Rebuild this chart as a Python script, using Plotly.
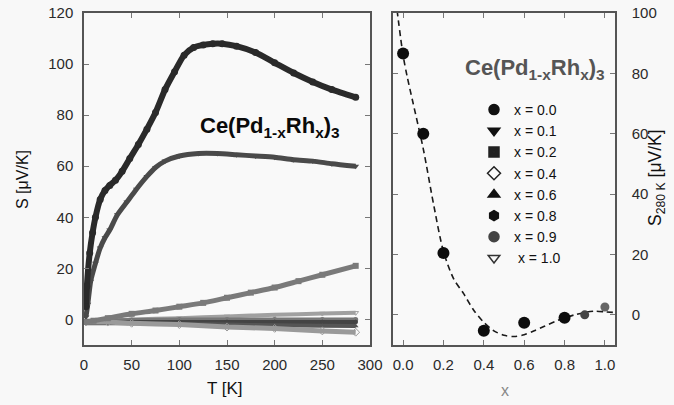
import plotly.graph_objects as go

# ---------------- data ----------------
T_00 = [2, 3, 6, 9, 12, 17, 22, 27, 33, 40, 48, 57, 66, 75, 85, 95, 105, 115, 125, 135, 145, 160, 180, 200, 220, 240, 260, 285]
S_00 = [5, 13, 26, 34, 40, 47, 50.5, 52.5, 54.5, 58, 63, 68.5, 74.5, 81, 90, 97, 103.5, 106.5, 107.5, 108, 108, 107, 104.5, 100.5, 96.5, 93, 90, 87]

T_01 = [2, 4, 7, 12, 17, 22, 27, 35, 45, 55, 66, 75, 85, 100, 120, 140, 160, 180, 200, 220, 240, 260, 285]
S_01 = [1, 6, 15, 22, 28, 32, 35, 41, 46, 51, 56, 59.5, 62, 64, 65, 65, 64.5, 64, 63.5, 62.5, 62, 61, 60]

T_02 = [2, 10, 25, 50, 75, 100, 125, 150, 175, 200, 225, 250, 285]
S_02 = [-1, -0.5, 0.5, 2.2, 3.5, 5, 6.5, 8.5, 10.5, 12.5, 15, 17.5, 21]

T_low = [2, 25, 50, 100, 150, 200, 250, 285]
S_04 = [-1, -1, -1.5, -2, -3, -3.5, -4.5, -5]
S_06 = [-1.5, -1.5, -1.5, -1.8, -2, -2.3, -2.5, -2.6]
S_08 = [-1, -1.2, -1, -1, -1, -1, -1, -1]
S_09 = [-0.5, -0.5, -0.2, 0, 0, 0, 0, 0]
S_10 = [-1, -0.5, 0, 0.5, 1.2, 1.8, 2.3, 2.6]

x_conc = [0.0, 0.1, 0.2, 0.4, 0.6, 0.8, 0.9, 1.0]
S_280 = [86.6, 60, 20.5, -5.3, -2.6, -1, 0, 2.6]

x_fit = [-0.03, 0.0, 0.02, 0.05, 0.1, 0.15, 0.2, 0.25, 0.3, 0.35, 0.4, 0.45, 0.5, 0.55, 0.6, 0.65, 0.7, 0.75, 0.8, 0.85, 0.9, 0.95, 1.0, 1.04]
S_fit = [101, 86, 79, 70, 55, 37, 21, 12, 7, 1.5, -2.5, -5.3, -6.8, -7.2, -6.6, -5.3, -3.8, -2.3, -1, 0, 0.8, 1.2, 1.0, 0.8]

legend_labels = ["x = 0.0", "x = 0.1", "x = 0.2", "x = 0.4", "x = 0.6", "x = 0.8", "x = 0.9", " x = 1.0"]

# ---------------- styles ----------------
FONT = "Liberation Sans, Arial, sans-serif"
series = [
    (T_00, S_00, "circle", "#2a2a2a", 6),
    (T_01, S_01, "triangle-down", "#4a4a4a", 5),
    (T_02, S_02, "square", "#7a7a7a", 5),
    (T_low, S_04, "diamond-open", "#9a9a9a", 5),
    (T_low, S_06, "triangle-up", "#555555", 4),
    (T_low, S_08, "hexagon", "#444444", 4),
    (T_low, S_09, "circle-x", "#777777", 4),
    (T_low, S_10, "triangle-down-open", "#a0a0a0", 4),
]
legend_symbols = ["circle", "triangle-down", "square-dot", "diamond-open",
                  "triangle-up", "hexagon", "circle-x", "triangle-down-open"]
legend_colors = ["#111111", "#111111", "#222222", "#222222", "#111111", "#111111", "#444444", "#333333"]

fig = go.Figure()

for (tx, sy, sym, col, w) in reversed(series):
    fig.add_trace(go.Scatter(
        x=tx, y=sy, mode="lines+markers", xaxis="x", yaxis="y",
        line=dict(color=col, width=w, shape="spline", smoothing=0.6),
        marker=dict(symbol=sym, size=w + 1, color=col),
        showlegend=False, hoverinfo="skip"))

for lab, sym, col in zip(legend_labels, legend_symbols, legend_colors):
    fig.add_trace(go.Scatter(
        x=[None], y=[None], mode="markers", xaxis="x2", yaxis="y2",
        marker=dict(symbol=sym, size=10, color=col, opacity=1, line=dict(color=col, width=1.5)),
        name=lab, showlegend=True))

fig.add_trace(go.Scatter(
    x=x_fit, y=S_fit, mode="lines", xaxis="x2", yaxis="y2",
    line=dict(color="#1a1a1a", width=1.6, dash="6px,4px", shape="spline", smoothing=0.8),
    showlegend=False, hoverinfo="skip"))
fig.add_trace(go.Scatter(
    x=x_conc, y=S_280, mode="markers", xaxis="x2", yaxis="y2",
    marker=dict(symbol="circle", size=[12, 12, 12, 12, 12, 12, 9, 9], opacity=1,
                color=["#0d0d0d", "#0d0d0d", "#0d0d0d", "#0d0d0d", "#0d0d0d", "#0d0d0d", "#444", "#666"],
                line=dict(width=0)),
    showlegend=False, hoverinfo="skip"))

axis_common = dict(
    showline=True, linecolor="#555555", linewidth=1.5, mirror="ticks",
    ticks="inside", ticklen=5, tickwidth=1, tickcolor="#777777",
    showgrid=False, zeroline=False, automargin=False,
    tickfont=dict(family=FONT, size=15, color="#2a2a2a"),
)

def label(text, px, py, size, color="#111", angle=0):
    return dict(text=text, x=px / 674, y=1 - py / 405, xref="paper", yref="paper",
                xanchor="center", yanchor="middle", textangle=angle, showarrow=False,
                font=dict(family=FONT, size=size, color=color))

fig.update_layout(
    template="none",
    width=674, height=405, autosize=False,
    margin=dict(l=0, r=0, t=0, b=0, pad=0),
    paper_bgcolor="#f8f8f8", plot_bgcolor="#f9f9f9",
    font=dict(family=FONT, size=15, color="#111"),
    xaxis=dict(domain=[84 / 674, 370 / 674], range=[0, 300], tickvals=[0, 50, 100, 150, 200, 250, 300],
               anchor="y", ticklabelstandoff=5, **axis_common),
    yaxis=dict(domain=[1 - 345 / 405, 1 - 13 / 405], range=[-10, 120], tickvals=[0, 20, 40, 60, 80, 100, 120],
               anchor="x", ticklabelstandoff=6, **axis_common),
    xaxis2=dict(domain=[393 / 674, 615 / 674], range=[-0.05, 1.05], tickvals=[0, 0.2, 0.4, 0.6, 0.8, 1.0],
                tickformat=".1f", anchor="y2", ticklabelstandoff=5, **axis_common),
    yaxis2=dict(domain=[1 - 345 / 405, 1 - 13 / 405], range=[-10, 100], tickvals=[0, 20, 40, 60, 80, 100],
                anchor="x2", side="right", ticklabelstandoff=12, **axis_common),
    legend=dict(x=474 / 674, y=1 - 94 / 405, xanchor="left", yanchor="top",
                bgcolor="rgba(0,0,0,0)", borderwidth=0, tracegroupgap=0,
                font=dict(family=FONT, size=14, color="#111")),
    annotations=[
        label("S [μV/K]", 22, 180, 16, angle=-90),
        label("T [K]", 225, 388, 17),
        label("x", 505, 390, 16, color="#888"),
        label("S<sub>280 K</sub> [μV/K]", 656, 178, 17.5, angle=-90),
        label("<b>Ce(Pd<sub>1-x</sub>Rh<sub>x</sub>)<sub>3</sub></b>", 270, 127, 22, color="#0a0a0a"),
        label("<b>Ce(Pd<sub>1-x</sub>Rh<sub>x</sub>)<sub>3</sub></b>", 535, 69, 22, color="#555"),
    ],
)

fig.write_html("out.html", config={"displayModeBar": False},
               post_script="document.body.style.margin='0';document.body.style.padding='0';"
                           "document.body.style.overflow='hidden';")
